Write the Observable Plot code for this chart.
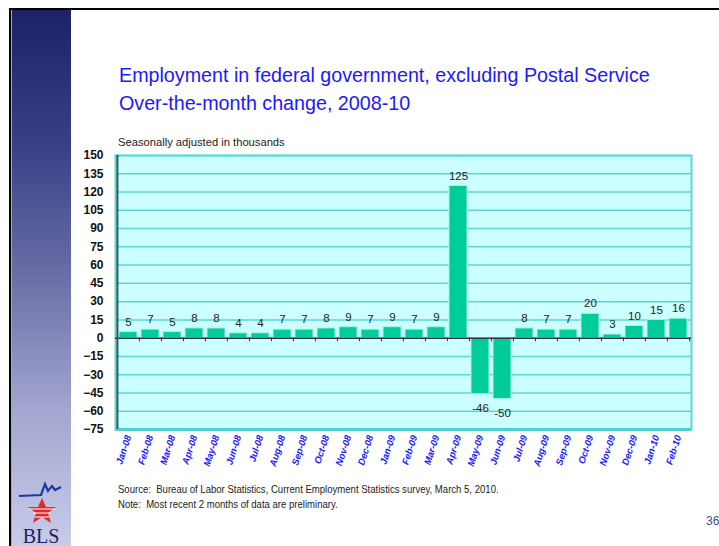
<!DOCTYPE html>
<html>
<head>
<meta charset="utf-8">
<script src="https://cdn.jsdelivr.net/npm/d3@7"></script>
<script src="https://cdn.jsdelivr.net/npm/@observablehq/plot@0.6"></script>
<style>
  html, body { margin: 0; padding: 0; background: #fff; }
  #page { position: relative; width: 719px; height: 546px; overflow: hidden; background: #fff; font-family: "Liberation Sans", Arial, sans-serif; }
  .abs { position: absolute; }
  #title { left: 119px; top: 61px; color: #1a1aff; font-size: 19.7px; line-height: 28px; white-space: nowrap; }
  #sub { left: 118px; top: 136px; font-size: 11.2px; color: #222; white-space: nowrap; }
  #foot { left: 118px; top: 482px; font-size: 10.5px; line-height: 15px; color: #222; white-space: nowrap; transform: scaleX(0.91); transform-origin: 0 0; }
  #pg { left: 706px; top: 514px; font-size: 12px; color: #4a4a9a; }
  #chart { left: 0; top: 130px; }
</style>
</head>
<body>
<div id="page">
  <div class="abs" style="left:9px;top:8px;right:0;height:2px;background:#000"></div>
  <div class="abs" style="left:9px;top:8px;width:2px;bottom:0;background:#000"></div>
  <div class="abs" style="left:11px;top:10px;width:60px;bottom:0;background:linear-gradient(to bottom,#1d2268 0%,#3a3f85 25%,#6a6fa8 50%,#a3a7d0 75%,#c8cbe8 100%);border-left:1px solid #aaa;box-sizing:border-box"></div>
  <svg class="abs" style="left:11px;top:474px" width="60" height="72">
    <polyline points="8,22 30,21 34,10 37,17 41,12 44,16 50,13" fill="none" stroke="#1a3aa8" stroke-width="2.2"/>
    <polygon points="31,24 35,33 45,33 37,39 40,49 31,43 22,49 25,39 17,33 27,33" fill="#e02a2a"/>
    <line x1="18" y1="35" x2="44" y2="35" stroke="#fff" stroke-width="1"/>
    <line x1="22" y1="39" x2="40" y2="39" stroke="#fff" stroke-width="1"/>
    <line x1="24" y1="43" x2="38" y2="43" stroke="#fff" stroke-width="1"/>
    <text x="30" y="69" text-anchor="middle" font-family="Liberation Serif, serif" font-size="20" fill="#1d2260">BLS</text>
  </svg>
  <div id="title" class="abs">Employment in federal government, excluding Postal Service<br>Over-the-month change, 2008-10</div>
  <div id="sub" class="abs">Seasonally adjusted in thousands</div>
  <div id="chart" class="abs"></div>
  <div id="foot" class="abs">Source:&nbsp; Bureau of Labor Statistics, Current Employment Statistics survey, March 5, 2010.<br>Note:&nbsp; Most recent 2 months of data are preliminary.</div>
  <div id="pg" class="abs">36</div>
</div>
<script>
const months = ["Jan-08","Feb-08","Mar-08","Apr-08","May-08","Jun-08","Jul-08","Aug-08","Sep-08","Oct-08","Nov-08","Dec-08",
                "Jan-09","Feb-09","Mar-09","Apr-09","May-09","Jun-09","Jul-09","Aug-09","Sep-09","Oct-09","Nov-09","Dec-09",
                "Jan-10","Feb-10"];
const values = [5,7,5,8,8,4,4,7,7,8,9,7,9,7,9,125,-46,-50,8,7,7,20,3,10,15,16];
const yTicks = [-75,-60,-45,-30,-15,0,15,30,45,60,75,90,105,120,135,150];

const data = months.map((m, i) => ({month: m, value: values[i]}));
const pos = data.filter(d => d.value >= 0);
const neg = data.filter(d => d.value < 0);

const W = 719, H = 360, mL = 115, mR = 28, mT = 25, mB = 61;
const pInner = 0.17, pOuter = 0.085;
const step = (W - mL - mR) / (months.length - pInner + 2 * pOuter);
const teal = "#5ed6d6";

const chart = Plot.plot({
  width: W, height: H,
  marginLeft: mL, marginRight: mR, marginTop: mT, marginBottom: mB,
  style: {background: "transparent", fontFamily: "Liberation Sans, Arial, sans-serif", overflow: "visible"},
  x: {domain: months, paddingInner: pInner, paddingOuter: pOuter, label: null},
  y: {domain: [-75, 150], ticks: yTicks, label: null},
  marks: [
    Plot.frame({fill: "#ccffff", stroke: null}),
    Plot.gridY(yTicks, {stroke: teal, strokeOpacity: 1, strokeWidth: 1.5}),
    Plot.barY(data, {x: "month", y: "value", fill: "#00cc99", stroke: "#a8f5e6", strokeWidth: 1}),
    Plot.frame({stroke: teal, strokeWidth: 2}),
    Plot.ruleY([-75], {stroke: "#4fcfcf", strokeWidth: 3}),
    Plot.ruleY([0], {stroke: "#333", strokeWidth: 1.5}),
    Plot.ruleX(months, {x: d => d, y1: 0, y2: -3, dx: -step / 2, stroke: "#333", strokeWidth: 1}),
    Plot.ruleX([months[months.length - 1]], {x: d => d, y1: 0, y2: -3, dx: step / 2, stroke: "#333", strokeWidth: 1}),
    Plot.ruleX([months[0]], {x: d => d, y1: -75, y2: 150, dx: -step / 2, stroke: "#2d5a5a", strokeWidth: 2}),
    Plot.axisY(yTicks, {tickSize: 0, tickPadding: 12, fontSize: 12, fontWeight: "bold", fill: "#111", label: null}),
    Plot.axisX({tickSize: 0, tickPadding: 6, tickRotate: -72, fontSize: 9.5, fontWeight: "bold", fontStyle: "italic", fill: "#1a1aff", label: null}),
    Plot.text(pos, {x: "month", y: "value", text: d => String(d.value), dy: -10, fontSize: 11.5, fill: "#222"}),
    Plot.text(neg, {x: "month", y: "value", text: d => String(d.value), dy: 14, fontSize: 11.5, fill: "#222"})
  ]
});
document.getElementById("chart").appendChild(chart);
</script>
</body>
</html>
